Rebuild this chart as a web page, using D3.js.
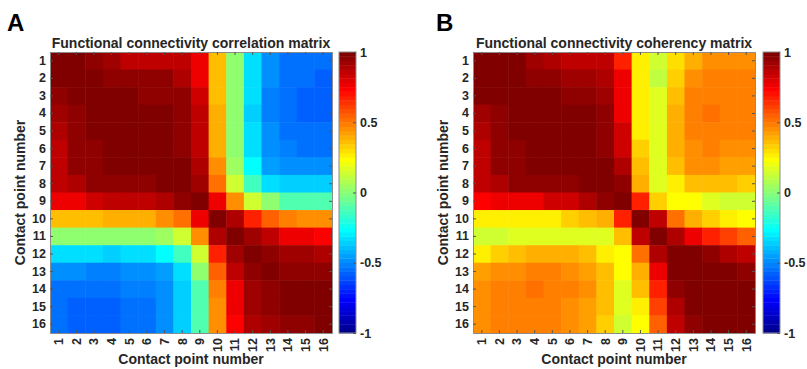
<!DOCTYPE html>
<html><head><meta charset="utf-8">
<script src="https://cdn.jsdelivr.net/npm/d3@7"></script>
<style>body{margin:0;background:#fff}svg{display:block}text{font-family:"Liberation Sans",Arial,sans-serif;font-weight:bold;fill:#262626}</style>
</head><body><svg id="c" width="807" height="369"></svg>
<script>
const contacts = d3.range(1,17).map(String);
const colorTicks = [-1,-0.5,0,0.5,1];
const titles = ["Functional connectivity correlation matrix","Functional connectivity coherency matrix"];
const panelLetters = ["A","B"];
const axisLabel = "Contact point number";

const correlation = [
[1.00,0.99,0.94,0.91,0.87,0.85,0.85,0.86,0.75,0.35,0.00,-0.32,-0.48,-0.55,-0.55,-0.55],
[0.99,1.00,0.98,0.94,0.94,0.94,0.94,0.90,0.78,0.35,0.00,-0.32,-0.48,-0.55,-0.55,-0.58],
[0.95,0.98,1.00,1.00,1.00,0.95,0.95,0.94,0.82,0.35,0.00,-0.32,-0.52,-0.55,-0.58,-0.58],
[0.92,0.95,1.00,1.00,1.00,1.00,0.98,0.95,0.85,0.38,0.00,-0.35,-0.52,-0.55,-0.58,-0.58],
[0.88,0.95,1.00,1.00,1.00,1.00,0.99,0.95,0.85,0.38,0.00,-0.32,-0.48,-0.55,-0.55,-0.55],
[0.85,0.94,0.95,1.00,1.00,1.00,1.00,0.95,0.85,0.38,0.02,-0.32,-0.48,-0.52,-0.55,-0.55],
[0.85,0.94,0.95,1.00,1.00,1.00,1.00,0.98,0.88,0.44,0.05,-0.28,-0.45,-0.48,-0.48,-0.48],
[0.85,0.90,0.94,0.95,0.95,0.95,1.00,1.00,0.92,0.52,0.15,-0.15,-0.32,-0.35,-0.35,-0.35],
[0.75,0.78,0.82,0.85,0.85,0.85,0.88,0.95,1.00,0.78,0.45,0.15,0.02,-0.12,-0.12,-0.12],
[0.35,0.35,0.35,0.38,0.38,0.38,0.44,0.52,0.78,1.00,0.90,0.68,0.55,0.48,0.45,0.44],
[0.02,0.00,0.00,0.00,0.00,0.02,0.05,0.15,0.45,0.90,1.00,0.92,0.85,0.78,0.75,0.72],
[-0.32,-0.32,-0.32,-0.35,-0.32,-0.32,-0.28,-0.15,0.15,0.68,0.92,1.00,0.95,0.92,0.92,0.88],
[-0.48,-0.48,-0.52,-0.52,-0.48,-0.48,-0.45,-0.32,0.02,0.55,0.85,0.95,1.00,0.95,0.95,0.94],
[-0.55,-0.55,-0.55,-0.55,-0.52,-0.52,-0.48,-0.35,-0.12,0.48,0.78,0.92,0.95,1.00,0.99,0.97],
[-0.55,-0.58,-0.58,-0.58,-0.55,-0.55,-0.48,-0.35,-0.12,0.45,0.75,0.92,0.95,0.98,0.98,0.97],
[-0.55,-0.58,-0.58,-0.58,-0.55,-0.55,-0.48,-0.35,-0.12,0.44,0.72,0.88,0.92,0.95,0.95,1.00]
];
const coherency = [
[1.00,1.00,1.00,0.92,0.88,0.85,0.85,0.85,0.68,0.28,0.15,0.31,0.40,0.44,0.44,0.44],
[1.00,1.00,1.00,0.95,0.95,0.92,0.92,0.88,0.75,0.28,0.12,0.34,0.44,0.47,0.47,0.47],
[1.00,1.00,1.00,1.00,1.00,0.95,0.95,0.92,0.78,0.28,0.18,0.37,0.47,0.48,0.48,0.48],
[0.92,0.95,1.00,1.00,1.00,1.00,1.00,0.95,0.78,0.28,0.18,0.39,0.48,0.52,0.48,0.48],
[0.90,0.95,1.00,1.00,1.00,1.00,1.00,0.95,0.82,0.28,0.18,0.39,0.48,0.48,0.48,0.48],
[0.87,0.94,0.95,1.00,1.00,1.00,1.00,0.95,0.82,0.32,0.18,0.39,0.45,0.48,0.45,0.45],
[0.87,0.94,0.95,1.00,1.00,1.00,1.00,1.00,0.88,0.35,0.18,0.35,0.44,0.45,0.42,0.42],
[0.87,0.90,0.94,0.95,0.95,0.95,1.00,1.00,0.95,0.40,0.18,0.28,0.37,0.37,0.37,0.34],
[0.72,0.75,0.78,0.78,0.82,0.82,0.88,0.94,1.00,0.68,0.32,0.22,0.22,0.18,0.15,0.15],
[0.28,0.28,0.28,0.28,0.28,0.32,0.35,0.40,0.68,1.00,0.85,0.52,0.38,0.32,0.25,0.22],
[0.15,0.15,0.18,0.18,0.18,0.18,0.18,0.18,0.35,0.85,1.00,0.90,0.75,0.68,0.62,0.55],
[0.28,0.32,0.35,0.38,0.38,0.38,0.35,0.28,0.22,0.52,0.90,1.00,0.97,0.95,0.88,0.85],
[0.42,0.45,0.45,0.48,0.48,0.45,0.42,0.37,0.22,0.40,0.75,0.97,1.00,1.00,0.97,0.95],
[0.44,0.47,0.48,0.52,0.48,0.48,0.45,0.37,0.18,0.35,0.68,0.95,1.00,1.00,0.98,0.97],
[0.44,0.47,0.48,0.48,0.48,0.45,0.42,0.37,0.18,0.25,0.62,0.88,0.97,0.98,1.00,0.98],
[0.44,0.47,0.48,0.48,0.48,0.45,0.42,0.34,0.15,0.22,0.55,0.85,0.95,0.97,0.98,1.00]
];
const matrices = [correlation, coherency];

// MATLAB jet(64)
function jetColor(i){ // i: 1..64
  const u = k => (k<0||k>46)?0:(k<16?(k+1)/16:(k<31?1:(47-k)/16));
  return d3.rgb(255*u(i-25),255*u(i-9),255*u(i+7)).formatHex();
}
const jet = d3.range(1,65).map(jetColor);
const colorIndex = v => Math.max(0,Math.min(63,Math.floor((v+1)/2*64)));
const color = v => jet[colorIndex(v)];

const svg = d3.select("#c");
const panels = [{x0:50, cbx:339, letterX:7, ylabX:25},{x0:473, cbx:763, letterX:436, ylabX:448}];
const top0 = 52, W = 282, H = 281, cbW = 17;

panels.forEach((p,pi)=>{
  const data = matrices[pi];
  const x = d3.scaleBand().domain(contacts).range([p.x0,p.x0+W]);
  const y = d3.scaleBand().domain(contacts).range([top0,top0+H]);
  const g = svg.append("g");
  const cells = [];
  data.forEach((row,r)=>row.forEach((v,c)=>cells.push({r:contacts[r],c:contacts[c],v})));
  g.selectAll("rect.cell").data(cells).join("rect").attr("class","cell")
    .attr("x",d=>x(d.c)).attr("y",d=>y(d.r))
    .attr("width",x.bandwidth()+0.5).attr("height",y.bandwidth()+0.5)
    .attr("fill",d=>color(d.v));
  const ax = g.append("g").attr("transform",`translate(0,${top0+H})`)
    .call(d3.axisBottom(x).tickSizeInner(-3).tickSizeOuter(0));
  ax.selectAll("text").attr("transform","rotate(-90)").attr("text-anchor","end")
    .attr("x",-5).attr("y",0).attr("dy","0.35em").style("font-size","12.5px");
  const ay = g.append("g").attr("transform",`translate(${p.x0},0)`)
    .call(d3.axisLeft(y).tickSizeInner(-3).tickSizeOuter(0));
  ay.selectAll("text").attr("x",-4).style("font-size","12.5px");
  const axT = g.append("g").attr("transform",`translate(0,${top0})`)
    .call(d3.axisTop(x).tickSizeInner(-3).tickSizeOuter(0).tickFormat(""));
  const ayR = g.append("g").attr("transform",`translate(${p.x0+W},0)`)
    .call(d3.axisRight(y).tickSizeInner(-3).tickSizeOuter(0).tickFormat(""));
  [ax,ay,axT,ayR].forEach(a=>{a.select(".domain").attr("stroke","#8c8c8c");a.selectAll(".tick line").attr("stroke","#555");});
  g.append("text").attr("x",p.x0+W/2).attr("y",48).attr("text-anchor","middle").style("font-size","14px").text(titles[pi]);
  g.append("text").attr("x",p.x0+W/2).attr("y",364).attr("text-anchor","middle").style("font-size","14px").text(axisLabel);
  g.append("text").attr("transform",`translate(${p.ylabX},${top0+H/2}) rotate(-90)`).attr("text-anchor","middle").style("font-size","14px").text(axisLabel);
  g.append("text").attr("x",p.letterX).attr("y",31).style("font-size","24px").style("fill","#000").text(panelLetters[pi]);
  const cy = d3.scaleLinear().domain([-1,1]).range([top0+H,top0]);
  const bands = d3.range(64);
  g.selectAll("rect.cb").data(bands).join("rect").attr("class","cb")
    .attr("x",p.cbx).attr("width",cbW)
    .attr("y",i=>cy(-1+(i+1)*2/64)).attr("height",i=>cy(-1+i*2/64)-cy(-1+(i+1)*2/64)+0.4)
    .attr("fill",i=>jet[i]);
  g.append("rect").attr("x",p.cbx).attr("y",top0).attr("width",cbW).attr("height",H)
    .attr("fill","none").attr("stroke","#8c8c8c").attr("stroke-width",1);
  const cax = g.append("g").attr("transform",`translate(${p.cbx+cbW},0)`)
    .call(d3.axisRight(cy).tickValues(colorTicks).tickFormat(d=>d).tickSizeInner(-3).tickSizeOuter(0));
  cax.select(".domain").remove();
  cax.selectAll(".tick line").attr("stroke","#555");
  cax.selectAll("text").attr("x",4).style("font-size","12.5px");
});
</script></body></html>
